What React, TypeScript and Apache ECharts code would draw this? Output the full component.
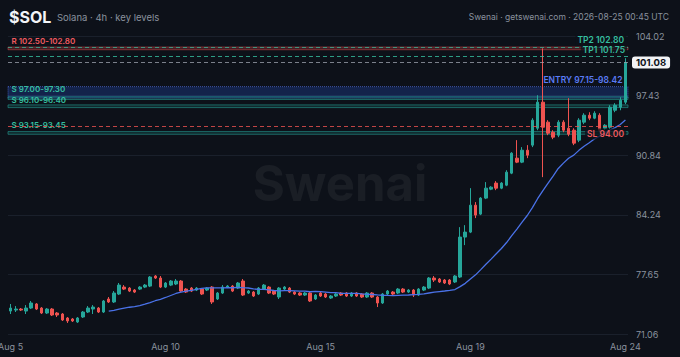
import React, { useEffect, useRef } from 'react';
import * as echarts from 'echarts';

// ---- Data (4h candles, SOL) ----
const opens = [
  73.60, 73.71, 73.82, 73.60, 73.93, 74.38, 73.93, 73.38, 73.82, 73.38,
  73.27, 72.83, 72.72, 72.39, 72.94, 73.49, 73.82, 73.93, 73.49, 74.93,
  74.60, 75.48, 76.25, 76.14, 75.92, 76.03, 76.25, 76.36, 77.47, 77.25,
  76.25, 76.47, 76.59, 76.92, 76.03, 76.14, 75.92, 76.03, 75.92, 76.25,
  74.93, 75.59, 76.25, 76.36, 76.14, 76.92, 75.59, 75.70, 75.48, 76.03,
  76.25, 75.81, 75.15, 76.03, 76.14, 75.70, 75.59, 75.37, 75.59, 74.93,
  75.59, 75.48, 75.04, 75.26, 75.59, 75.59, 75.26, 75.59, 75.48, 75.15,
  75.59, 75.15, 74.49, 75.48, 75.70, 75.59, 76.03, 75.70, 75.92, 75.37,
  75.92, 76.14, 77.25, 77.14, 77.03, 77.03, 76.81, 77.36, 81.78, 82.33,
  85.31, 84.32, 86.09, 87.08, 87.75, 87.19, 87.52, 88.85, 90.51, 90.07,
  91.39, 91.95, 93.82, 96.70, 94.49, 93.38, 93.05, 94.49, 93.82, 93.60,
  92.50, 94.49, 95.26, 94.93, 95.26, 93.82, 93.93, 95.81, 96.14, 96.70,
];
const closes = [
  73.93, 73.82, 73.71, 73.93, 74.49, 73.82, 73.38, 73.82, 73.16, 73.16,
  72.61, 72.50, 72.50, 72.83, 73.49, 73.93, 74.04, 73.49, 74.71, 74.60,
  75.59, 76.47, 76.03, 75.81, 75.70, 76.25, 76.47, 77.36, 77.25, 76.25,
  76.70, 76.92, 76.92, 75.81, 75.70, 75.81, 76.14, 75.48, 76.14, 74.60,
  75.59, 76.25, 76.36, 75.81, 76.70, 75.37, 75.81, 75.26, 76.14, 76.47,
  75.59, 75.48, 76.14, 76.25, 75.70, 75.48, 75.37, 75.59, 74.71, 75.37,
  75.26, 75.15, 75.26, 75.48, 75.37, 75.26, 75.59, 75.26, 75.15, 75.59,
  75.15, 74.49, 75.48, 75.81, 75.48, 76.03, 75.70, 75.92, 75.37, 76.03,
  76.25, 77.25, 77.03, 76.81, 76.70, 76.59, 77.47, 81.78, 82.33, 85.31,
  84.21, 86.09, 87.19, 87.30, 87.19, 87.75, 88.96, 91.06, 90.07, 91.39,
  90.84, 94.71, 96.70, 93.93, 93.27, 92.83, 94.49, 93.60, 93.16, 92.17,
  94.71, 95.26, 94.93, 95.48, 93.60, 94.15, 96.14, 96.36, 96.92, 101.08,
];
const lows = [
  73.27, 73.49, 73.60, 73.27, 73.82, 73.71, 73.27, 73.27, 73.05, 72.94,
  72.50, 72.28, 72.39, 72.28, 72.83, 73.38, 73.27, 73.38, 73.38, 74.49,
  74.49, 75.37, 75.92, 75.70, 75.59, 75.92, 76.14, 76.25, 77.14, 76.14,
  76.14, 76.36, 76.47, 75.70, 75.59, 75.70, 75.81, 75.37, 75.81, 74.38,
  74.82, 75.48, 76.14, 75.70, 76.03, 75.26, 75.48, 75.15, 75.37, 75.92,
  75.48, 75.37, 74.93, 75.92, 75.59, 75.37, 75.26, 75.26, 74.60, 74.82,
  75.15, 75.04, 74.93, 75.15, 75.26, 75.15, 75.15, 75.15, 75.04, 75.04,
  75.04, 74.04, 74.38, 75.37, 75.37, 75.48, 75.59, 75.59, 75.15, 75.26,
  75.81, 76.03, 76.81, 76.70, 76.59, 76.47, 76.70, 77.25, 80.89, 82.22,
  83.88, 84.21, 85.98, 86.97, 86.97, 87.08, 87.41, 88.74, 89.96, 89.96,
  90.51, 91.73, 93.60, 88.41, 93.05, 92.61, 92.83, 93.38, 92.94, 91.95,
  92.28, 94.27, 94.71, 94.82, 93.38, 93.60, 93.71, 95.59, 95.81, 96.48,
];
const highs = [
  74.38, 74.15, 73.93, 74.26, 74.71, 74.49, 74.04, 73.93, 73.93, 73.49,
  73.38, 72.94, 72.83, 72.94, 73.60, 74.15, 74.26, 74.04, 74.82, 75.15,
  75.81, 76.70, 76.47, 76.25, 76.03, 76.36, 76.59, 77.47, 77.58, 77.47,
  76.81, 77.03, 77.14, 77.03, 76.14, 76.25, 76.25, 76.14, 76.25, 76.36,
  75.70, 76.47, 76.47, 76.47, 76.81, 77.14, 75.92, 75.81, 76.25, 76.59,
  76.36, 75.92, 76.25, 76.36, 76.25, 75.81, 75.70, 75.70, 75.70, 75.48,
  75.70, 75.59, 75.37, 75.59, 75.70, 75.70, 75.70, 75.70, 75.59, 75.70,
  75.70, 75.26, 75.59, 75.92, 75.81, 76.14, 76.14, 76.03, 76.03, 76.14,
  76.36, 77.36, 77.47, 77.25, 77.14, 77.14, 77.58, 82.88, 83.10, 87.19,
  85.65, 86.20, 87.86, 87.41, 87.97, 87.86, 89.18, 91.17, 92.50, 91.73,
  91.95, 94.93, 97.47, 102.66, 94.71, 93.60, 94.71, 94.71, 97.14, 93.82,
  94.93, 95.48, 95.59, 95.70, 95.48, 94.27, 96.36, 96.59, 97.25, 101.56,
];

// time axis: first candle 2026-08-05 00:00 UTC, 4h candles
const START_UTC = Date.UTC(2026, 7, 5, 0, 0);
const CANDLE_MS = 4 * 3600 * 1000;
const MONTHS = ['Jan', 'Feb', 'Mar', 'Apr', 'May', 'Jun', 'Jul', 'Aug', 'Sep', 'Oct', 'Nov', 'Dec'];
const categories = opens.map((_, i) => {
  const d = new Date(START_UTC + i * CANDLE_MS);
  const hh = String(d.getUTCHours()).padStart(2, '0');
  return `${MONTHS[d.getUTCMonth()]} ${d.getUTCDate()} ${hh}:00`;
});
const xLabelIndex = [0, 30, 60, 89, 119];

// price axis
const Y_MIN = 71.06;
const Y_MAX = 104.02;
const yTickLabels = ['71.06', '77.65', '84.24', '90.84', '97.43', '104.02'];

// levels
const resistanceZone = [102.5, 102.8];
const entryZone = [97.15, 98.42];
const supportZones = [
  [97.0, 97.3],
  [96.1, 96.4],
  [93.15, 93.45],
];
const tp1 = 101.75;
const tp2 = 102.8;
const stopLoss = 94.0;
const lastPrice = 101.08;
const MA_PERIOD = 20;

// ---- Styles ----
const BG = '#0d1119';
const FONT = 'Inter, "Noto Sans", sans-serif';
const UP = '#26a69a';
const DOWN = '#ef5350';
const MA_COLOR = '#4a72e8';
const GRID = '#1a202b';
const AXIS_TXT = '#8a919e';
const TEAL_TXT = '#36bfa0';
const RED_TXT = '#ef5a5f';
const BLUE_TXT = '#5b7cf7';
const SUPPORT_LABEL_DY = [-7.5, -4.8, -6];

const f2 = (v: number) => v.toFixed(2);

export default function App() {
  const ref = useRef<HTMLDivElement>(null);

  useEffect(() => {
    document.body.style.margin = '0';
    document.body.style.background = BG;
    const chart = echarts.init(ref.current!, null, { renderer: 'svg' });

    const candleData = opens.map((o, i) => [o, closes[i], lows[i], highs[i]]);
    const ma = closes.map((_, i) => {
      if (i < MA_PERIOD - 1) return '-';
      let s = 0;
      for (let k = i - MA_PERIOD + 1; k <= i; k++) s += closes[k];
      return +(s / MA_PERIOD).toFixed(3);
    });

    const rightLabel = (color: string) => ({
      color,
      fontSize: 8.5,
      fontWeight: 600,
      fontFamily: FONT,
      backgroundColor: 'rgba(13,17,25,0.75)',
      padding: [1, 2],
    });

    const zoneLabelLeft = (text: string, color: string, dy = -6) => ({
      show: true,
      formatter: text,
      position: [4, dy],
      align: 'left',
      verticalAlign: 'middle',
      color,
      fontSize: 8,
      fontWeight: 600,
      fontFamily: FONT,
    });

    const supportStyle = {
      color: 'rgba(38,166,154,0.16)',
      borderColor: 'rgba(38,166,154,0.55)',
      borderWidth: 1,
    };

    const option: any = {
      animation: false,
      backgroundColor: BG,
      textStyle: { fontFamily: FONT },
      title: [
        {
          text: '$SOL',
          left: 9,
          top: 9,
          padding: 0,
          textStyle: { color: '#f2f4f7', fontSize: 16, fontWeight: 'bold', fontFamily: FONT },
        },
        {
          text: 'Solana · 4h · key levels',
          left: 57,
          top: 12,
          padding: 0,
          textStyle: { color: AXIS_TXT, fontSize: 9.5, fontWeight: 'normal', fontFamily: FONT },
        },
        {
          text: 'Swenai · getswenai.com · 2026-08-25 00:45 UTC',
          right: 11,
          top: 12,
          padding: 0,
          textStyle: { color: AXIS_TXT, fontSize: 8.5, fontWeight: 'normal', fontFamily: FONT },
        },
      ],
      graphic: [
        {
          type: 'text',
          x: 340,
          y: 183,
          silent: true,
          z: 0,
          style: {
            text: 'Swenai',
            fill: 'rgba(255,255,255,0.055)',
            font: `bold 49px ${FONT}`,
            align: 'center',
            verticalAlign: 'middle',
          },
        },
      ],
      grid: { left: 8, right: 52, top: 36, bottom: 23, outerBoundsMode: 'none' },
      xAxis: {
        type: 'category',
        data: categories,
        boundaryGap: true,
        axisLine: { show: false },
        axisTick: { show: false },
        splitLine: { show: false },
        axisLabel: {
          interval: (i: number) => xLabelIndex.includes(i),
          formatter: (v: string) => v.split(' ').slice(0, 2).join(' '),
          color: AXIS_TXT,
          fontSize: 9,
          margin: 8,
          hideOverlap: false,
        },
      },
      yAxis: [
        {
          type: 'value',
          min: Y_MIN,
          max: Y_MAX,
          position: 'right',
          axisLabel: { show: false },
          axisLine: { show: false },
          axisTick: { show: false },
          splitLine: { show: false },
        },
        {
          type: 'value',
          min: 0,
          max: yTickLabels.length - 1,
          interval: 1,
          position: 'right',
          axisLine: { show: false },
          axisTick: { show: false },
          splitLine: { lineStyle: { color: GRID, width: 1 } },
          axisLabel: {
            formatter: (v: number) => yTickLabels[Math.round(v)] ?? '',
            color: AXIS_TXT,
            fontSize: 9,
            margin: 8,
            align: 'left',
          },
        },
      ],
      series: [
        {
          type: 'candlestick',
          name: 'SOL',
          yAxisIndex: 0,
          data: candleData,
          barWidth: 3,
          itemStyle: {
            color: UP,
            color0: DOWN,
            borderColor: UP,
            borderColor0: DOWN,
            borderWidth: 1,
          },
          markArea: {
            silent: true,
            data: [
              [
                {
                  yAxis: resistanceZone[1],
                  itemStyle: {
                    color: 'rgba(239,83,80,0.22)',
                    borderColor: 'rgba(239,83,80,0.45)',
                    borderWidth: 1,
                  },
                  label: zoneLabelLeft(`R ${f2(resistanceZone[0])}-${f2(resistanceZone[1])}`, RED_TXT),
                },
                { yAxis: resistanceZone[0] },
              ],
              [
                {
                  yAxis: entryZone[1],
                  itemStyle: {
                    color: 'rgba(41,98,255,0.22)',
                    borderColor: 'rgba(91,124,247,0.6)',
                    borderWidth: 1,
                    borderType: 'dotted',
                  },
                  label: {
                    show: true,
                    formatter: `ENTRY ${f2(entryZone[0])}-${f2(entryZone[1])}`,
                    position: ['100%', -6],
                    align: 'right',
                    verticalAlign: 'middle',
                    offset: [-4, 0],
                    ...rightLabel(BLUE_TXT),
                  },
                },
                { yAxis: entryZone[0] },
              ],
              ...supportZones.map((z, k) => [
                {
                  yAxis: z[1],
                  itemStyle: supportStyle,
                  label: zoneLabelLeft(`S ${f2(z[0])}-${f2(z[1])}`, TEAL_TXT, SUPPORT_LABEL_DY[k]),
                },
                { yAxis: z[0] },
              ]),
            ],
          },
          markLine: {
            silent: true,
            symbol: ['none', 'none'],
            data: [
              {
                yAxis: tp2,
                lineStyle: { color: 'rgba(54,191,160,0.7)', type: [4, 3], width: 1 },
                label: { formatter: `TP2 ${f2(tp2)}`, position: 'insideEndTop', distance: 2, ...rightLabel(TEAL_TXT) },
              },
              {
                yAxis: tp1,
                lineStyle: { color: 'rgba(54,191,160,0.8)', type: [4, 3], width: 1 },
                label: { formatter: `TP1 ${f2(tp1)}`, position: 'insideEndTop', distance: 1, ...rightLabel(TEAL_TXT) },
              },
              {
                yAxis: lastPrice,
                lineStyle: { color: 'rgba(160,166,178,0.75)', type: [4, 3], width: 1 },
                label: {
                  formatter: f2(lastPrice),
                  position: 'end',
                  distance: 4,
                  color: '#0d1119',
                  backgroundColor: '#f2f3f5',
                  fontWeight: 'bold',
                  fontSize: 9.5,
                  fontFamily: FONT,
                  padding: [1, 4],
                  borderRadius: 3,
                },
              },
              {
                yAxis: stopLoss,
                lineStyle: { color: 'rgba(239,83,80,0.8)', type: [4, 3], width: 1 },
                label: { formatter: `SL ${f2(stopLoss)}`, position: 'insideEndBottom', distance: 2, ...rightLabel(RED_TXT) },
              },
            ],
          },
        },
        {
          type: 'line',
          name: 'MA20',
          yAxisIndex: 0,
          data: ma,
          showSymbol: false,
          smooth: false,
          lineStyle: { color: MA_COLOR, width: 1.3 },
          itemStyle: { color: MA_COLOR },
          z: 3,
        },
      ],
    };

    chart.setOption(option);
    return () => chart.dispose();
  }, []);

  return <div ref={ref} style={{ width: 680, height: 357 }} />;
}
